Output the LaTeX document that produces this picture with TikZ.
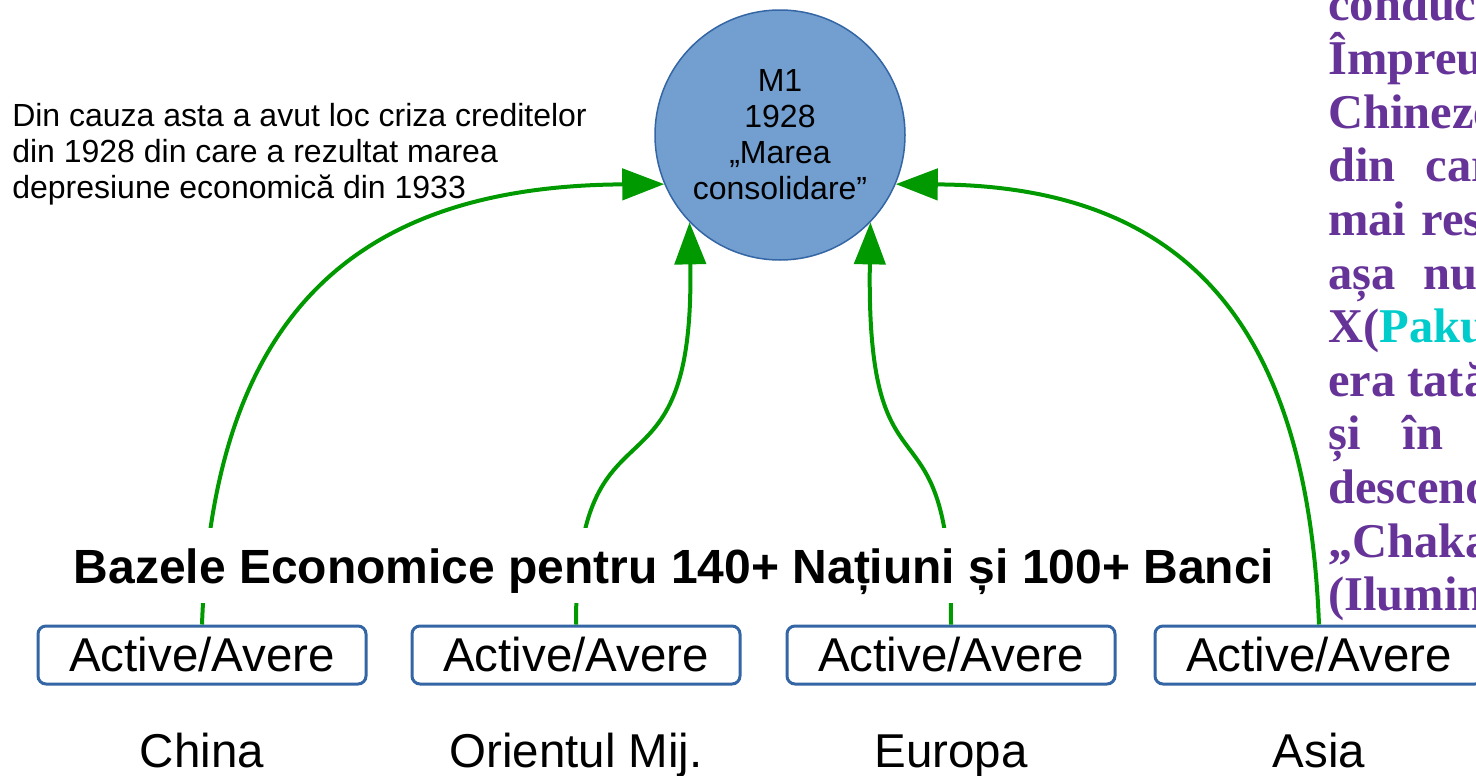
\documentclass[tikz,border=0pt]{standalone}
\usepackage{fontspec}
\setmainfont{Liberation Sans}
\newfontfamily\notefont{Liberation Serif}
\usetikzlibrary{arrows.meta}

\newlength{\pxu}
\setlength{\pxu}{0.025cm}

\definecolor{arrowgreen}{RGB}{0,153,0}
\definecolor{circfill}{RGB}{114,159,207}
\definecolor{boxblue}{RGB}{52,101,164}
\definecolor{notepurple}{RGB}{102,51,153}
\definecolor{pakucyan}{RGB}{0,204,204}

\tikzset{
  assetbox/.style={draw=boxblue, line width=3\pxu, rounded corners=8\pxu,
    minimum width=328\pxu, minimum height=58\pxu, inner sep=0pt,
    font=\fontsize{47.5\pxu}{50\pxu}\selectfont},
  regionlbl/.style={anchor=base, inner sep=0pt, font=\fontsize{47.5\pxu}{50\pxu}\selectfont},
  link/.style={draw=arrowgreen, line width=4\pxu, -{Triangle[length=1.05cm,width=0.78cm]}},
  note/.style={anchor=base west, inner sep=0pt, text=notepurple,
    font=\notefont\bfseries\fontsize{48.5\pxu}{53.6\pxu}\selectfont}
}

\begin{document}
\begin{tikzpicture}[x=0.025cm, y=-0.025cm]
\useasboundingbox (0,0) rectangle (1476,776);

\node[circle, draw=boxblue, line width=1.5\pxu, fill=circfill, minimum size=250\pxu,
  inner sep=0pt, align=center, font=\fontsize{32\pxu}{36\pxu}\selectfont]
  (m1) at (780,135) {M1\\1928\\„Marea\\consolidare”};

\node[anchor=north west, inner sep=0pt, align=left, font=\fontsize{32\pxu}{36\pxu}\selectfont]
  (cause) at (12,103) {Din cauza asta a avut loc criza creditelor\\din 1928 din care a rezultat marea\\depresiune economică din 1933};

\foreach \x/\n/\reg in {202/a/China, 576/b/Orientul Mij., 951/c/Europa, 1319/d/Asia}
{
\node[assetbox] (\n) at (\x,655) {Active/Avere};
\node[regionlbl] (lbl\n) at (\x,767) {\reg};
}

\draw[link] (a.north) .. controls (213,320) and (350,186) .. (m1.203);
\draw[link] (b.north) .. controls (576,380) and (695,520) .. (m1.224);
\draw[link] (c.north) .. controls (951,380) and (866,520) .. (m1.316);
\draw[link] (d.north) .. controls (1307,320) and (1182,186) .. (m1.-23);

% title covers the links
\node[anchor=base, fill=white, inner xsep=2\pxu, inner ysep=0pt, text height=55\pxu, text depth=20\pxu,
  font=\bfseries\fontsize{48\pxu}{50\pxu}\selectfont]
  (title) at (674,583) {Bazele Economice pentru 140+ Națiuni și 100+ Banci};

% side note, cut by the page edge
\foreach \txt [count=\i from 0] in {conduc, Împreu, Chineze, din\hspace{30\pxu}car,
  mai\hspace{15\pxu}res, așa\hspace{28\pxu}num, {X(\textcolor{pakucyan}{Paku})},
  era\hspace{12\pxu}tată, și\hspace{42\pxu}în, descend, „Chaka, {(Ilumin}}
\node[note] (note\i) at (1328,21+53.6*\i) {\txt};
\end{tikzpicture}
\end{document}
